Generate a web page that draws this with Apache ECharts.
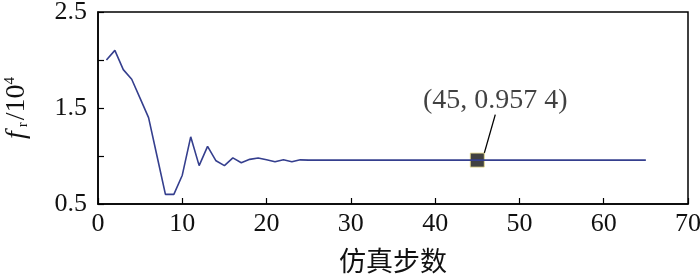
<!DOCTYPE html>
<html><head><meta charset="utf-8">
<script src="https://cdn.jsdelivr.net/npm/echarts@6/dist/echarts.min.js"></script>
<style>html,body{margin:0;padding:0;background:#fff}#c{width:700px;height:275px}</style>
</head><body><div id="c"></div>
<script>
const steps = [1,2,3,4,5,6,7,8,9,10,11,12,13,14,15,16,17,18,19,20,21,22,23,24,25,30,35,40,45,50,55,60,65];
const fr = [2.0,2.1,1.9,1.8,1.6,1.4,1.0,0.6,0.6,0.8,1.2,0.9,1.1,0.95,0.9,0.98,0.93,0.965,0.98,0.96,0.94,0.96,0.94,0.96,0.9574,0.9574,0.9574,0.9574,0.9574,0.9574,0.9574,0.9574,0.9574];
const markStep = 45, markValue = 0.9574, markText = '(45, 0.957 4)';
const yLabels = [0.5, 1.5, 2.5];
const xTicks = [0,10,20,30,40,50,60,70];

const chart = echarts.init(document.getElementById('c'), null, {renderer:'canvas'});
const serif = '"Liberation Serif", "Times New Roman", serif';
chart.setOption({
  animation:false,
  grid:{left:98, right:12, top:12, bottom:71, outerBoundsMode:'none', containLabel:false,
    show:true, borderColor:'#000', borderWidth:1.5, backgroundColor:'transparent'},
  xAxis:{type:'value', min:0, max:70, interval:10,
    axisLine:{show:true, lineStyle:{color:'#000', width:1.5}},
    axisTick:{show:true, inside:true, length:6, lineStyle:{color:'#000', width:1.2}},
    axisLabel:{color:'#111', fontFamily:serif, fontSize:26, margin:7},
    splitLine:{show:false},
    name:'仿真步数', nameLocation:'middle', nameGap:43,
    nameTextStyle:{color:'#111', fontFamily:'"Noto Sans CJK SC", sans-serif', fontSize:27}
  },
  yAxis:{type:'value', min:0.5, max:2.5, interval:0.5,
    axisLine:{show:true, lineStyle:{color:'#000', width:1.5}},
    axisTick:{show:true, inside:true, length:6, lineStyle:{color:'#000', width:1.2}},
    axisLabel:{color:'#111', fontFamily:serif, fontSize:26, margin:11,
      formatter: v => yLabels.some(l => Math.abs(l - v) < 1e-6) ? v.toFixed(1) : ''},
    splitLine:{show:false},
    name:'{f|f}{r|r}{n|/10}{s|4}', nameLocation:'middle', nameGap:67, nameRotate:90,
    nameTextStyle:{rich:{
      f:{fontFamily:serif, fontStyle:'italic', fontSize:28, color:'#111', padding:[0,4,0,0]},
      r:{fontFamily:serif, fontSize:15, color:'#111', verticalAlign:'bottom', padding:[12,2,0,0]},
      n:{fontFamily:serif, fontSize:28, color:'#111'},
      s:{fontFamily:serif, fontSize:15, color:'#111', verticalAlign:'top', padding:[0,0,12,0]}
    }}
  },
  series:[
    {type:'line', data: steps.map((s,i)=>[s, fr[i]]), showSymbol:false, symbol:'none',
      lineStyle:{color:'#353f8e', width:1.6}},
    {type:'scatter', data:[[markStep, markValue]], symbol:'rect', symbolSize:14,
      itemStyle:{color:'#111', borderColor:'#e8dc8a', borderWidth:1},
      label:{show:true, position:'top', formatter: markText, fontFamily:serif, fontSize:28, color:'#111',
        distance:20, padding:[0,0,18,0]},
      labelLayout:{dx:18, dy:0},
      labelLine:{show:true, lineStyle:{color:'#000', width:1.3}, smooth:false}
    }
  ]
});
</script></body></html>
